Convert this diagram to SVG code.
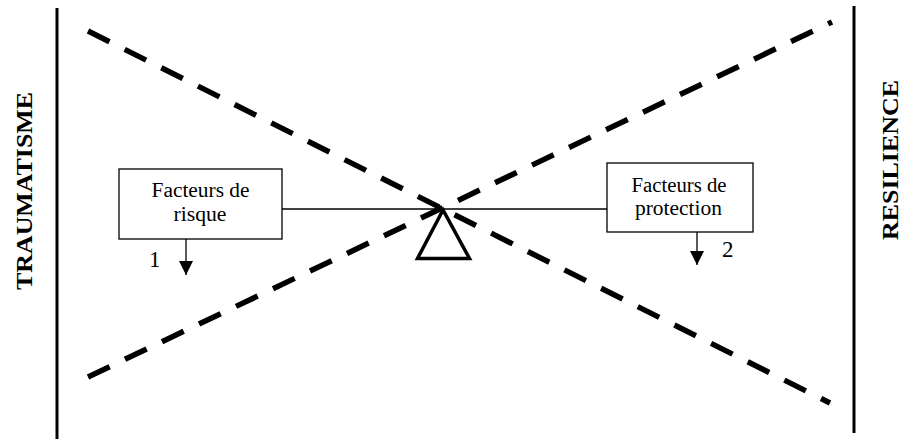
<svg xmlns="http://www.w3.org/2000/svg" width="902" height="439" viewBox="0 0 902 439">
  <style>
    .axis { stroke: #000; stroke-width: 3; fill: none; }
    .dash { stroke: #000; stroke-width: 5.5; stroke-dasharray: 24 17; fill: none; }
    .box { fill: #fff; stroke: #000; stroke-width: 1.3; }
    .thin { stroke: #000; stroke-width: 1.3; fill: none; }
    .lbl { font-family: "Liberation Serif", "Times New Roman", serif; font-size: 20px; fill: #000; text-anchor: middle; }
    .num { font-family: "Liberation Serif", "Times New Roman", serif; font-size: 23px; fill: #000; }
    .side { font-family: "Liberation Serif", "Times New Roman", serif; font-size: 24px; font-weight: bold; fill: #000; text-anchor: middle; }
  </style>
  <defs>
    <marker id="arr" viewBox="0 0 10 10" refX="10" refY="5" markerWidth="14" markerHeight="14" markerUnits="userSpaceOnUse" orient="auto">
      <path d="M0,0 L10,5 L0,10 Z" fill="#000"/>
    </marker>
  </defs>
  <rect width="902" height="439" fill="#fff"/>

  <g id="axes">
    <line class="axis" x1="57" y1="8" x2="57" y2="439"/>
    <line class="axis" x1="854" y1="6" x2="854" y2="433"/>
  </g>

  <g id="side-labels">
    <text class="side" transform="translate(32,191) rotate(-90)" textLength="198" lengthAdjust="spacingAndGlyphs">TRAUMATISME</text>
    <text class="side" transform="translate(898,160) rotate(-90)" textLength="160" lengthAdjust="spacingAndGlyphs">RESILIENCE</text>
  </g>

  <g id="connectors">
    <line class="dash" x1="88" y1="31" x2="830" y2="403"/>
    <line class="dash" x1="88" y1="377" x2="832" y2="22"/>
    <line class="thin" x1="282" y1="209" x2="607" y2="209"/>
    <line class="thin" x1="186" y1="239" x2="186" y2="275" marker-end="url(#arr)"/>
    <line class="thin" x1="697" y1="232" x2="697" y2="265" marker-end="url(#arr)"/>
  </g>

  <g id="fulcrum">
    <polygon points="443,210 417.5,258.5 469.5,258.5" fill="#fff" stroke="#000" stroke-width="3.5" stroke-linejoin="miter"/>
  </g>

  <g id="risque">
    <rect class="box" x="119" y="169" width="163" height="70"/>
    <text class="lbl" x="200.5" y="197" textLength="98" lengthAdjust="spacingAndGlyphs">Facteurs de</text>
    <text class="lbl" x="200" y="220.5" textLength="53" lengthAdjust="spacingAndGlyphs">risque</text>
    <text class="num" x="149" y="266.5">1</text>
  </g>

  <g id="protection">
    <rect class="box" x="607" y="163" width="146" height="69"/>
    <text class="lbl" x="679" y="191.5" textLength="95" lengthAdjust="spacingAndGlyphs">Facteurs de</text>
    <text class="lbl" x="678.5" y="215" textLength="87" lengthAdjust="spacingAndGlyphs">protection</text>
    <text class="num" x="722" y="257">2</text>
  </g>
</svg>
